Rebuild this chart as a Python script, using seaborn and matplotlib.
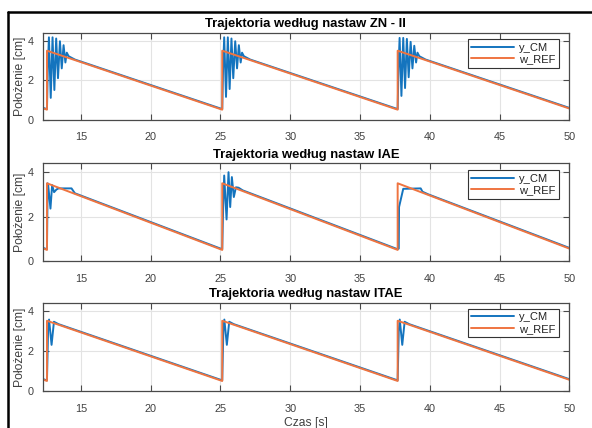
import matplotlib
matplotlib.use("Agg")
import matplotlib.pyplot as plt
import seaborn as sns
from matplotlib.lines import Line2D

# Reference trajectory (sawtooth, identical for all three controller tunings)
czas_ref = [12.25, 12.57, 12.57, 25.13, 25.13, 37.70, 37.70, 50.00]
w_ref = [0.58, 0.50, 3.50, 0.50, 3.50, 0.50, 3.50, 0.56]

# Measured position, Ziegler-Nichols (II) tuning
czas_zn = [12.25,
           12.57, 12.63, 12.71, 12.84, 12.97, 13.10, 13.23, 13.36, 13.50, 13.63, 13.76, 13.89, 13.99, 14.12, 14.57,
           25.13, 25.19, 25.27, 25.40, 25.53, 25.66, 25.79, 25.92, 26.06, 26.19, 26.32, 26.45, 26.55, 26.68, 27.13,
           37.70, 37.76, 37.84, 37.97, 38.10, 38.23, 38.36, 38.49, 38.63, 38.76, 38.89, 39.02, 39.12, 39.25, 39.70,
           50.00]
y_zn = [0.60,
        0.53, 2.60, 4.18, 1.10, 4.18, 1.50, 4.12, 2.10, 3.98, 2.60, 3.78, 2.90, 3.40, 3.22, 3.05,
        0.53, 2.60, 4.18, 1.15, 4.18, 1.55, 4.12, 2.10, 3.98, 2.60, 3.78, 2.90, 3.40, 3.22, 3.05,
        0.53, 2.60, 4.15, 1.20, 4.15, 1.60, 4.10, 2.15, 3.95, 2.60, 3.75, 2.90, 3.40, 3.22, 3.05,
        0.59]

# Measured position, IAE tuning
czas_iae = [12.25,
            12.57, 12.62, 12.66, 12.82, 12.94, 13.08, 13.25, 13.40, 14.33, 14.57,
            25.13, 25.20, 25.27, 25.44, 25.58, 25.70, 25.82, 25.96, 26.11, 26.30, 26.60,
            37.70, 37.78, 37.80, 38.10, 39.35, 39.48, 39.90,
            50.00]
y_iae = [0.60,
         0.53, 3.50, 3.40, 2.36, 3.42, 3.10, 3.22, 3.27, 3.27, 3.05,
         0.53, 2.50, 3.85, 1.87, 4.00, 2.43, 3.78, 2.88, 3.32, 3.30, 3.18,
         0.53, 0.56, 2.43, 3.25, 3.27, 3.12, 3.00,
         0.59]

# Measured position, ITAE tuning
czas_itae = [12.25,
             12.57, 12.65, 12.72, 12.90, 13.07, 13.40,
             25.13, 25.21, 25.28, 25.46, 25.63, 25.96,
             37.70, 37.78, 37.85, 38.03, 38.20, 38.53,
             50.00]
y_itae = [0.60,
          0.53, 3.00, 3.56, 2.30, 3.45, 3.33,
          0.53, 3.00, 3.56, 2.30, 3.45, 3.33,
          0.53, 3.00, 3.56, 2.30, 3.45, 3.33,
          0.59]

tytuly = ["Trajektoria według nastaw ZN - II",
          "Trajektoria według nastaw IAE",
          "Trajektoria według nastaw ITAE"]
serie = [(czas_zn, y_zn), (czas_iae, y_iae), (czas_itae, y_itae)]
x_ticks = [15, 20, 25, 30, 35, 40, 45, 50]
y_ticks = [0, 2, 4]

sns.set_theme(style="ticks")
plt.rcParams["font.family"] = ["Liberation Sans", "DejaVu Sans"]

NIEBIESKI = "#1474BE"
POMARANCZ = "#EF7440"
OS = "#4a4a4a"
TEKST = "#404040"

W, H = 592, 428
fig = plt.figure(figsize=(W / 100, H / 100), dpi=100, facecolor="white")

# axes boxes in pixels: (top, bottom)
pozycje = [(33.0, 119.5), (163.3, 261.0), (302.7, 391.0)]
lewa, prawa = 42.5, 569.3

for i, ((gora, dol), tytul, (t, y)) in enumerate(zip(pozycje, tytuly, serie)):
    ax = fig.add_axes([lewa / W, 1 - dol / H, (prawa - lewa) / W, (dol - gora) / H])
    sns.lineplot(x=t, y=y, ax=ax, color=NIEBIESKI, lw=1.4, label="y_CM",
                 estimator=None, sort=False)
    sns.lineplot(x=czas_ref, y=w_ref, ax=ax, color=POMARANCZ, lw=1.4, label="w_REF",
                 estimator=None, sort=False)
    ax.set_xlim(12.25, 50)
    ax.set_ylim(0, 4.4)
    ax.set_xticks(x_ticks)
    ax.set_yticks(y_ticks)
    ax.grid(True, color="#e3e3e3", lw=0.8)
    ax.set_axisbelow(True)
    for s in ax.spines.values():
        s.set_visible(True)
        s.set_color(OS)
        s.set_linewidth(0.9)
    ax.tick_params(direction="in", length=4, width=0.8, color=OS,
                   top=True, right=True, labelsize=7.8, labelcolor=TEKST)
    ax.tick_params(axis="x", pad=9)
    ax.tick_params(axis="y", pad=6.5)
    ax.set_title(tytul, fontsize=9.4, fontweight="bold", pad=4, color="black")
    ax.set_ylabel("Położenie [cm]", fontsize=8.7, color=TEKST)
    ax.yaxis.set_label_coords(-0.031, 0.5)
    ax.set_xlabel("")
    leg = ax.legend(loc="upper right", bbox_to_anchor=(0.9805, 4.085),
                    bbox_transform=ax.get_yaxis_transform(), borderaxespad=0,
                    fontsize=8, frameon=True, fancybox=False, framealpha=1,
                    edgecolor="#333333", handlelength=3.9, handletextpad=0.45,
                    labelspacing=0.15, borderpad=0.3)
    leg.get_frame().set_linewidth(0.8)
    for txt in leg.get_texts():
        txt.set_color("#222222")

ax.set_xlabel("Czas [s]", fontsize=8.7, color=TEKST)
ax.xaxis.set_label_coords(0.5, -0.29)

# frame lines along the top and left edge of the figure
fig.add_artist(Line2D([8 / W, 1], [1 - 12 / H, 1 - 12 / H], transform=fig.transFigure,
                      color="black", lw=1.8))
fig.add_artist(Line2D([8 / W, 8 / W], [0, 1 - 12 / H], transform=fig.transFigure,
                      color="black", lw=1.8))

fig.savefig("out.png", dpi=100, facecolor="white")
